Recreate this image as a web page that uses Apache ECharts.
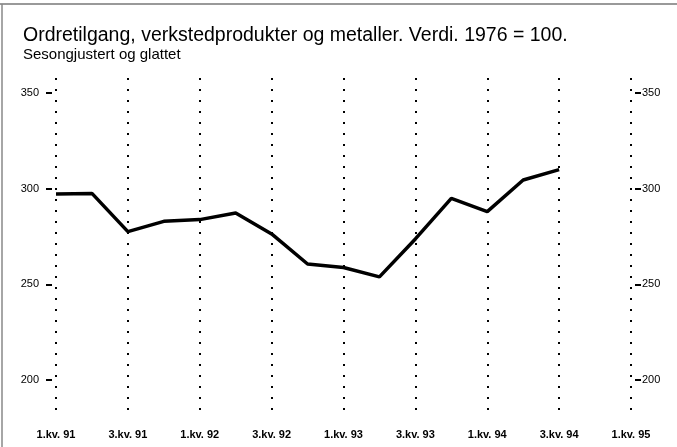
<!DOCTYPE html>
<html>
<head>
<meta charset="utf-8">
<script src="https://cdn.jsdelivr.net/npm/echarts@6/dist/echarts.min.js"></script>
<style>
  html, body { margin: 0; padding: 0; background: #fff; }
  #chart { width: 677px; height: 447px; }
</style>
</head>
<body>
<div id="chart"></div>
<script>
const quarters = [
  "1.kv. 91", "2.kv. 91", "3.kv. 91", "4.kv. 91",
  "1.kv. 92", "2.kv. 92", "3.kv. 92", "4.kv. 92",
  "1.kv. 93", "2.kv. 93", "3.kv. 93", "4.kv. 93",
  "1.kv. 94", "2.kv. 94", "3.kv. 94", "4.kv. 94",
  "1.kv. 95"
];
// ordretilgang, verdi (1976 = 100)
const orders = [
  297.2, 297.5, 277.5, 282.9,
  283.8, 287.3, 276.3, 260.6,
  258.8, 253.9, 273.7, 294.9,
  288.0, 304.5, 309.9, null,
  null
];
const yTicks = [200, 250, 300, 350];

const font = '"Liberation Sans", Arial, sans-serif';

const chart = echarts.init(document.getElementById("chart"));

const yAxisBase = {
  type: "value",
  min: 181.7,
  max: 357.8,
  offset: 4,
  axisLine: { show: false },
  axisTick: {
    show: true,
    length: 6,
    customValues: yTicks,
    lineStyle: { color: "#000", width: 2 },
  },
  axisLabel: {
    customValues: yTicks,
    color: "#000",
    fontFamily: font,
    fontSize: 11,
  },
  splitLine: { show: false },
};

chart.setOption({
  animation: false,
  backgroundColor: "#fff",
  title: {
    text: "Ordretilgang, verkstedprodukter og metaller. Verdi. 1976 = 100.",
    subtext: "Sesongjustert og glattet",
    left: 18,
    top: 21,
    itemGap: 1,
    textStyle: { color: "#000", fontFamily: font, fontSize: 19.5, fontWeight: "normal" },
    subtextStyle: { color: "#000", fontFamily: font, fontSize: 15 },
  },
  graphic: [
    { type: "line", shape: { x1: 0, y1: 4, x2: 677, y2: 4 }, style: { stroke: "#777", lineWidth: 1.5 } },
    { type: "line", shape: { x1: 2, y1: 4, x2: 2, y2: 447 }, style: { stroke: "#888", lineWidth: 1.5 } },
  ],
  grid: { left: 56, right: 46, top: 78, bottom: 32 },
  xAxis: {
    type: "category",
    boundaryGap: false,
    data: quarters,
    axisLine: { show: false },
    axisTick: { show: false },
    axisLabel: {
      interval: 1,
      color: "#000",
      fontFamily: font,
      fontWeight: "bold",
      fontSize: 11,
      margin: 14,
    },
    splitLine: {
      show: true,
      interval: 1,
      lineStyle: { color: "#000", width: 2, type: [2, 9] },
    },
  },
  yAxis: [
    Object.assign({}, yAxisBase, {
      position: "left",
      axisLabel: Object.assign({}, yAxisBase.axisLabel, { margin: 13 }),
    }),
    Object.assign({}, yAxisBase, {
      position: "right",
      axisLabel: Object.assign({}, yAxisBase.axisLabel, { margin: 7 }),
    }),
  ],
  series: [
    {
      type: "line",
      data: orders,
      showSymbol: false,
      lineStyle: { color: "#000", width: 3.5 },
    },
  ],
});
</script>
</body>
</html>
